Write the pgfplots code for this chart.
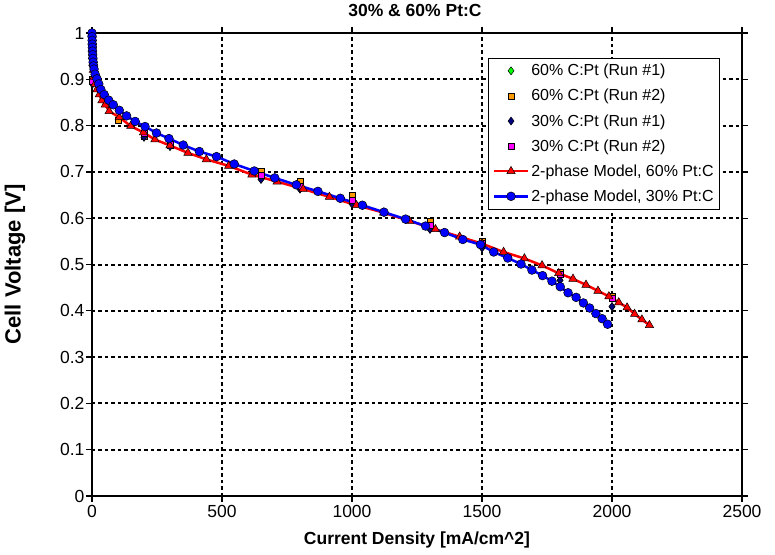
\documentclass[border=0pt]{standalone}
\usepackage{pgfplots}
\pgfplotsset{compat=1.18}
\usepackage{fontspec}
\setmainfont{Liberation Sans}

\definecolor{exgreen}{RGB}{0,255,0}
\definecolor{exorange}{RGB}{255,153,0}
\definecolor{exnavy}{RGB}{0,0,128}
\definecolor{exmagenta}{RGB}{255,0,255}

\pgfplotsset{
  legimg/.style={legend image code/.code={%
    \draw[mark repeat=2,mark phase=2,##1] plot coordinates {(0pt,0pt) (17pt,0pt) (34pt,0pt)};}},
}

\begin{document}
\begin{tikzpicture}
\useasboundingbox (-92pt,-58pt) rectangle (683pt,496pt);
\begin{axis}[
  at={(0pt,0pt)}, anchor=south west,
  scale only axis, width=650pt, height=463pt,
  xmin=0, xmax=2500, ymin=0, ymax=1,
  xtick={0,500,1000,1500,2000,2500},
  ytick={0,0.1,0.2,0.3,0.4,0.5,0.6,0.7,0.8,0.9,1},
  /pgf/number format/1000 sep={},
  /pgf/number format/assume math mode=true,
  ticklabel style={font=\fontsize{17.5}{20}\selectfont},
  yticklabel style={xshift=2pt},
  grid=major,
  major grid style={black, line width=2pt, dash pattern=on 3.5pt off 3pt},
  axis line style={black, line width=2pt},
  tick align=outside, major tick length=6pt,
  tick style={black, line width=1.3pt},
  xlabel={Current Density [mA/cm\textasciicircum 2]},
  ylabel={Cell Voltage [V]},
  xlabel style={at={(axis description cs:0.5,-0.095)}, anchor=center,
    font=\bfseries\fontsize{17.5}{20}\selectfont},
  ylabel style={at={(axis description cs:-0.1185,0.5)}, anchor=center,
    font=\bfseries\fontsize{22}{25}\selectfont},
  legend style={at={(axis description cs:0.966,0.946)}, anchor=north east,
    draw=black, line width=0.6pt, fill=white,
    font=\fontsize{16}{18}\selectfont,
    inner xsep=4pt, inner ysep=4pt, row sep=8pt,
    cells={anchor=west}},
  legend cell align=left,
]

% 60% C:Pt, run 1
\addplot[only marks, mark=diamond*, mark size=4pt,
  mark options={draw=black, line width=0.5pt, fill=exgreen}, legimg]
  coordinates {
  (2,0.890) (200,0.775) (300,0.755) (650,0.684) (800,0.663)
  (1000,0.631) (1300,0.576) (1500,0.536) (1800,0.466) (2000,0.409)
  };
\addlegendentry{60\% C:Pt (Run \#1)}

% 60% C:Pt, run 2
\addplot[only marks, mark=square*, mark size=3pt,
  mark options={draw=black, line width=0.5pt, fill=exorange}, legimg]
  coordinates {
  (2,0.900) (100,0.812) (200,0.778) (300,0.757) (650,0.702) (800,0.680)
  (1000,0.649) (1300,0.594) (1500,0.550) (1800,0.483) (2000,0.432)
  };
\addlegendentry{60\% C:Pt (Run \#2)}

% 30% C:Pt, run 1
\addplot[only marks, mark=diamond*, mark size=4pt,
  mark options={draw=black, line width=0.5pt, fill=exnavy}, legimg]
  coordinates {
  (2,0.890) (200,0.775) (300,0.755) (650,0.684) (800,0.663)
  (1000,0.631) (1300,0.576) (1500,0.536) (1800,0.466) (2000,0.409)
  };
\addlegendentry{30\% C:Pt (Run \#1)}

% 30% C:Pt, run 2
\addplot[only marks, mark=square*, mark size=3pt,
  mark options={draw=black, line width=0.5pt, fill=exmagenta}, legimg]
  coordinates {
  (2,0.895) (200,0.784) (300,0.760) (650,0.692) (800,0.670)
  (1000,0.639) (1300,0.584) (1500,0.546) (1800,0.480) (2000,0.428)
  };
\addlegendentry{30\% C:Pt (Run \#2)}

% two-phase model, 60% Pt:C
\addplot[red, line width=2.5pt, mark=triangle*, mark size=4.8pt,
  mark options={solid, draw=black, line width=0.5pt, fill=red}, legimg]
  coordinates {
  (0,1.000) (0.5,0.980) (1,0.965) (2,0.950) (3,0.935) (5,0.920) (8,0.905)
  (12,0.890) (19,0.878) (28,0.867) (38,0.854) (51,0.845) (66,0.831)
  (105,0.818) (149,0.799) (198,0.785) (242,0.770) (300,0.757) (369,0.741)
  (440,0.727) (526,0.713) (615,0.694) (712,0.679) (812,0.663) (913,0.646)
  (1017,0.628) (1122,0.612) (1221,0.594) (1321,0.576) (1414,0.560)
  (1500,0.545) (1583,0.527) (1663,0.513) (1731,0.498) (1795,0.481)
  (1850,0.469) (1900,0.456) (1946,0.443) (1988,0.431) (2026,0.418)
  (2058,0.407) (2087,0.393) (2115,0.381) (2144,0.369)
  };
\addlegendentry{2-phase Model, 60\% Pt:C}

% two-phase model, 30% Pt:C
\addplot[blue, line width=2.5pt, mark=*, mark size=4.4pt,
  mark options={solid, draw=black, line width=0.5pt, fill=blue}, legimg]
  coordinates {
  (0,1.000) (0.3,0.992) (0.6,0.984) (1,0.976) (1.4,0.969) (2,0.961)
  (2.6,0.953) (3.5,0.945) (4.5,0.937) (6,0.929) (8,0.922) (12,0.911)
  (19,0.901) (26,0.890) (34,0.878) (47,0.867) (64,0.855) (82,0.845)
  (105,0.833) (133,0.821) (166,0.809) (204,0.798) (248,0.784) (296,0.772)
  (351,0.758) (413,0.744) (479,0.733) (547,0.717) (624,0.702) (703,0.687)
  (786,0.672) (869,0.658) (955,0.643) (1040,0.628) (1123,0.613)
  (1206,0.598) (1283,0.583) (1356,0.569) (1426,0.554) (1494,0.543)
  (1545,0.527) (1599,0.514) (1650,0.501) (1692,0.488) (1733,0.476)
  (1769,0.464) (1801,0.452) (1831,0.439) (1862,0.429) (1890,0.417)
  (1914,0.406) (1938,0.394) (1962,0.383) (1983,0.371)
  };
\addlegendentry{2-phase Model, 30\% Pt:C}

\end{axis}
\node[font=\bfseries\fontsize{17.5}{20}\selectfont] at (323pt,486pt) {30\% \& 60\% Pt:C};
\end{tikzpicture}
\end{document}
